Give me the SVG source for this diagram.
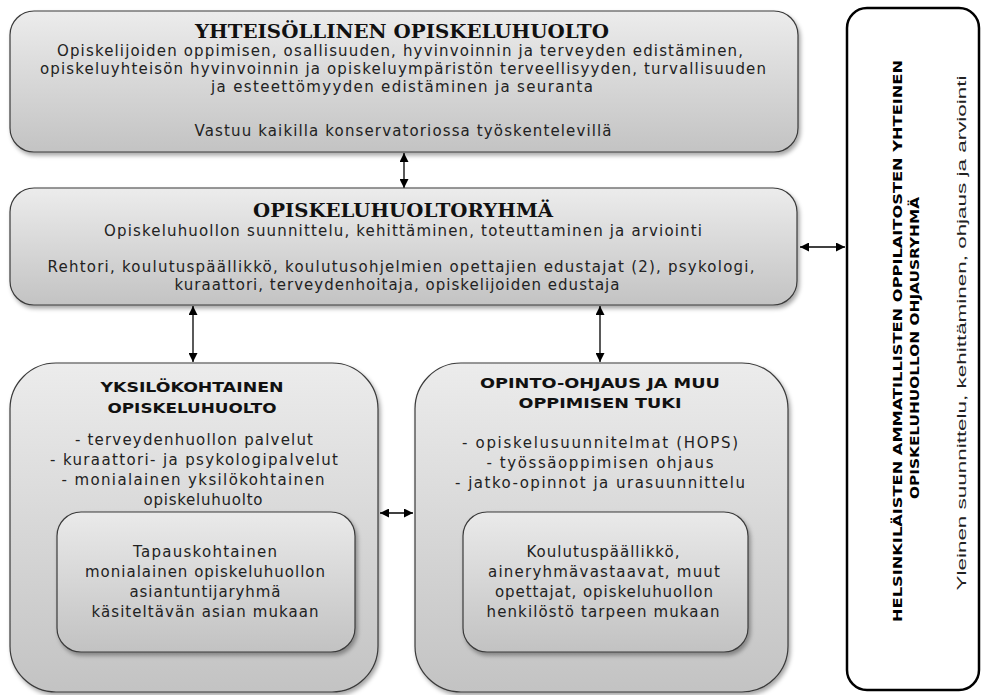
<svg xmlns="http://www.w3.org/2000/svg" width="984" height="695" viewBox="0 0 984 695">
<defs>
<linearGradient id="g" x1="0" y1="0" x2="0" y2="1">
<stop offset="0" stop-color="#ececec"/>
<stop offset="1" stop-color="#c3c3c3"/>
</linearGradient>
<linearGradient id="gi" x1="0" y1="0" x2="0" y2="1">
<stop offset="0" stop-color="#eaeaea"/>
<stop offset="1" stop-color="#c2c2c2"/>
</linearGradient>
<filter id="sh" x="-5%" y="-5%" width="110%" height="115%">
<feDropShadow dx="2" dy="3" stdDeviation="2" flood-color="#000" flood-opacity="0.35"/>
</filter>
<marker id="ah" viewBox="0 0 10 10" refX="10" refY="5" markerWidth="9" markerHeight="9" markerUnits="userSpaceOnUse" orient="auto-start-reverse">
<path d="M0,0 L10,5 L0,10 z" fill="#000"/>
</marker>
</defs>
<style>
.box{fill:url(#g);stroke:#3a3a3a;stroke-width:1.2;filter:url(#sh)}
.inner{fill:url(#gi);stroke:#3a3a3a;stroke-width:1.2;filter:url(#sh)}
.t{font-family:"DejaVu Serif","Liberation Serif",serif;font-weight:bold;font-size:19px;fill:#111;text-anchor:middle}
.b{font-family:"DejaVu Sans","Liberation Sans",sans-serif;font-size:15px;fill:#222;text-anchor:middle}
.st{font-family:"DejaVu Sans","Liberation Sans",sans-serif;font-weight:bold;font-size:14px;fill:#111;text-anchor:middle}
.rt{font-family:"DejaVu Sans","Liberation Sans",sans-serif;font-weight:bold;font-size:12.5px;fill:#000;text-anchor:middle}
.rb{font-family:"Liberation Sans Narrow","Liberation Sans",sans-serif;font-size:13.5px;fill:#222;text-anchor:middle}
.c{stroke:#000;stroke-width:1.3;fill:none;marker-start:url(#ah);marker-end:url(#ah)}
</style>

<g id="connectors">
<line class="c" x1="404" y1="153" x2="404" y2="188"/>
<line class="c" x1="193" y1="306" x2="193" y2="362"/>
<line class="c" x1="600" y1="306" x2="600" y2="362"/>
<line class="c" x1="800" y1="247" x2="845" y2="247"/>
<line class="c" x1="380" y1="513" x2="413" y2="513"/>
</g>

<g id="yhteisollinen">
<rect class="box" x="10" y="11" width="788" height="141" rx="24"/>
<text class="t" x="402" y="38" textLength="414" lengthAdjust="spacingAndGlyphs">YHTEISÖLLINEN OPISKELUHUOLTO</text>
<text class="b" x="400" y="56" textLength="686" lengthAdjust="spacing">Opiskelijoiden oppimisen, osallisuuden, hyvinvoinnin ja terveyden edistäminen,</text>
<text class="b" x="403" y="74" textLength="726" lengthAdjust="spacing">opiskeluyhteisön hyvinvoinnin ja opiskeluympäristön terveellisyyden, turvallisuuden</text>
<text class="b" x="402" y="92" textLength="382" lengthAdjust="spacing">ja esteettömyyden edistäminen ja seuranta</text>
<text class="b" x="403" y="136" textLength="417" lengthAdjust="spacing">Vastuu kaikilla konservatoriossa työskentelevillä</text>
</g>

<g id="opiskeluhuoltoryhma">
<rect class="box" x="10" y="188" width="787" height="117" rx="24"/>
<text class="t" x="403" y="217" textLength="300" lengthAdjust="spacingAndGlyphs">OPISKELUHUOLTORYHMÄ</text>
<text class="b" x="403" y="236" textLength="598" lengthAdjust="spacing">Opiskeluhuollon suunnittelu, kehittäminen, toteuttaminen ja arviointi</text>
<text class="b" x="401" y="272" textLength="707" lengthAdjust="spacing">Rehtori, koulutuspäällikkö, koulutusohjelmien opettajien edustajat (2), psykologi,</text>
<text class="b" x="397" y="290" textLength="445" lengthAdjust="spacing">kuraattori, terveydenhoitaja, opiskelijoiden edustaja</text>
</g>

<g id="yksilokohtainen">
<rect class="box" x="10" y="363" width="368" height="329" rx="46"/>
<text class="st" x="192" y="392" textLength="183" lengthAdjust="spacingAndGlyphs">YKSILÖKOHTAINEN</text>
<text class="st" x="192" y="413" textLength="169" lengthAdjust="spacingAndGlyphs">OPISKELUHUOLTO</text>
<text class="b" x="194" y="445" textLength="238" lengthAdjust="spacing">- terveydenhuollon palvelut</text>
<text class="b" x="194" y="465" textLength="288" lengthAdjust="spacing">-  kuraattori- ja psykologipalvelut</text>
<text class="b" x="193" y="485" textLength="263" lengthAdjust="spacing">-  monialainen yksilökohtainen</text>
<text class="b" x="203" y="505" textLength="119" lengthAdjust="spacing">opiskeluhuolto</text>
</g>

<g id="tapauskohtainen">
<rect class="inner" x="57" y="512" width="298" height="140" rx="24"/>
<text class="b" x="205" y="557" textLength="144" lengthAdjust="spacing">Tapauskohtainen</text>
<text class="b" x="205" y="577" textLength="240" lengthAdjust="spacing">monialainen opiskeluhuollon</text>
<text class="b" x="205" y="597" textLength="151" lengthAdjust="spacing">asiantuntijaryhmä</text>
<text class="b" x="205" y="617" textLength="227" lengthAdjust="spacing">käsiteltävän asian mukaan</text>
</g>

<g id="opinto-ohjaus">
<rect class="box" x="415" y="363" width="373" height="329" rx="46"/>
<text class="st" x="600" y="388" textLength="240" lengthAdjust="spacingAndGlyphs">OPINTO-OHJAUS JA MUU</text>
<text class="st" x="600" y="408" textLength="163" lengthAdjust="spacingAndGlyphs">OPPIMISEN TUKI</text>
<text class="b" x="600" y="448" textLength="276" lengthAdjust="spacing">-  opiskelusuunnitelmat (HOPS)</text>
<text class="b" x="600" y="468" textLength="227" lengthAdjust="spacing">-  työssäoppimisen ohjaus</text>
<text class="b" x="600" y="488" textLength="290" lengthAdjust="spacing">-  jatko-opinnot ja urasuunnittelu</text>
</g>

<g id="koulutuspaallikko">
<rect class="inner" x="463" y="512" width="285" height="140" rx="24"/>
<text class="b" x="603" y="557" textLength="153" lengthAdjust="spacing">Koulutuspäällikkö,</text>
<text class="b" x="604" y="577" textLength="232" lengthAdjust="spacing">aineryhmävastaavat, muut</text>
<text class="b" x="604" y="597" textLength="218" lengthAdjust="spacing">opettajat, opiskeluhuollon</text>
<text class="b" x="603" y="617" textLength="233" lengthAdjust="spacing">henkilöstö tarpeen mukaan</text>
</g>

<g id="ohjausryhma">
<rect x="847" y="8" width="132" height="682" rx="20" fill="#fff" stroke="#000" stroke-width="2.5"/>
<text class="rt" transform="translate(902,341) rotate(-90)" textLength="562" lengthAdjust="spacingAndGlyphs">HELSINKILÄISTEN AMMATILLISTEN OPPILAITOSTEN YHTEINEN</text>
<text class="rt" transform="translate(919,348) rotate(-90)" textLength="302" lengthAdjust="spacingAndGlyphs">OPISKELUHUOLLON OHJAUSRYHMÄ</text>
<text class="rb" transform="translate(966,333) rotate(-90)" textLength="515" lengthAdjust="spacingAndGlyphs">Yleinen suunnittelu, kehittäminen, ohjaus ja arviointi</text>
</g>
</svg>
